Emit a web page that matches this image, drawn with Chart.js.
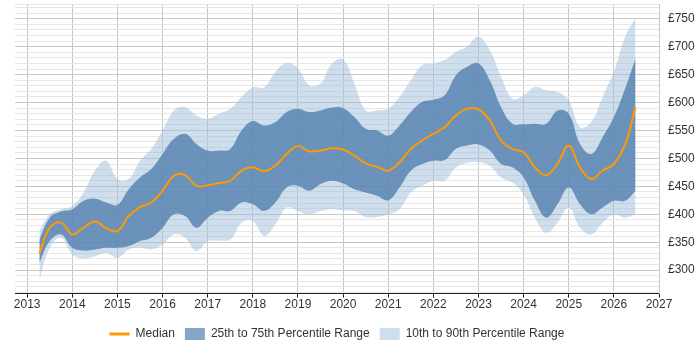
<!DOCTYPE html>
<html>
<head>
<meta charset="utf-8">
<script src="https://cdn.jsdelivr.net/npm/chart.js@4/dist/chart.umd.min.js"></script>
<style>
  html, body { margin: 0; padding: 0; background: #fff; }
  #wrap { width: 700px; height: 350px; }
</style>
</head>
<body>
<div id="wrap"><canvas id="c" width="700" height="350"></canvas></div>
<script>
// ---- data ----
const years = [2013.27, 2013.5, 2013.75, 2014.0, 2014.25, 2014.5, 2014.75, 2015.0, 2015.25, 2015.5,
  2015.75, 2016.0, 2016.25, 2016.5, 2016.75, 2017.0, 2017.25, 2017.5, 2017.75, 2018.0,
  2018.25, 2018.5, 2018.75, 2019.0, 2019.25, 2019.5, 2019.75, 2020.0, 2020.25, 2020.5,
  2020.75, 2021.0, 2021.25, 2021.5, 2021.75, 2022.0, 2022.25, 2022.5, 2022.75, 2023.0,
  2023.25, 2023.5, 2023.75, 2024.0, 2024.25, 2024.5, 2024.75, 2025.0, 2025.25, 2025.5,
  2025.75, 2026.0, 2026.25, 2026.48];
const p90 = [370, 400, 409, 415, 439, 478, 496, 463, 463, 496,
  517, 550, 586, 592, 577, 571, 580, 589, 610, 627,
  627, 655, 671, 661, 631, 634, 670, 677, 634, 586,
  586, 589, 610, 640, 667, 670, 676, 691, 700, 718,
  694, 646, 607, 613, 628, 622, 619, 604, 556, 565,
  610, 655, 718, 751];
const p75 = [355, 394, 405, 409, 424, 428, 421, 417, 445, 466,
  481, 508, 535, 544, 526, 514, 514, 517, 550, 567,
  559, 565, 583, 589, 583, 586, 591, 590, 574, 553,
  550, 541, 559, 583, 601, 605, 613, 649, 664, 670,
  640, 592, 562, 561, 562, 562, 586, 580, 526, 508,
  538, 574, 625, 679];
const median = [330, 376, 385, 364, 376, 387, 375, 370, 397, 413,
  421, 442, 469, 470, 451, 452, 456, 460, 478, 484,
  477, 487, 508, 522, 513, 514, 518, 516, 505, 491,
  485, 478, 493, 517, 532, 544, 556, 577, 589, 588,
  568, 532, 517, 511, 484, 470, 490, 523, 484, 463,
  478, 490, 525, 592];
const p25 = [313, 352, 364, 340, 335, 337, 340, 340, 343, 352,
  358, 376, 400, 397, 376, 394, 406, 406, 421, 418,
  406, 421, 448, 451, 442, 454, 460, 455, 445, 439,
  433, 425, 448, 478, 490, 496, 497, 517, 523, 525,
  514, 490, 484, 466, 424, 394, 418, 448, 418, 400,
  412, 424, 424, 442];
const p10 = [283, 340, 358, 328, 321, 325, 331, 322, 337, 340,
  337, 346, 364, 358, 334, 352, 353, 355, 385, 388,
  361, 382, 412, 406, 400, 406, 409, 407, 406, 395,
  395, 400, 409, 439, 451, 460, 460, 484, 492, 493,
  487, 466, 457, 436, 394, 367, 385, 412, 376, 364,
  385, 400, 394, 400];
const xTickYears = [2013, 2014, 2015, 2016, 2017, 2018, 2019, 2020, 2021, 2022, 2023, 2024, 2025, 2026, 2027];
const seriesLabels = ['Median', '25th to 75th Percentile Range', '10th to 90th Percentile Range'];

// ---- chart ----
const pts = arr => arr.map((v, i) => ({ x: years[i], y: v }));
const FONT = "'Liberation Sans', Arial, sans-serif";
Chart.defaults.font.family = FONT;
Chart.defaults.font.size = 12;
Chart.defaults.color = '#333';

const DARK = 'rgba(83,127,175,0.8)';
const LIGHT = 'rgba(158,189,219,0.5)';
const defaultGen = Chart.defaults.plugins.legend.labels.generateLabels;

// centre the legend on the plot area, as in the reference
const legendCenter = {
  id: 'legendCenter',
  afterLayout(chart) {
    const l = chart.legend, ca = chart.chartArea;
    if (!l || !ca) return;
    l.left = ca.left; l.right = ca.right; l.width = ca.right - ca.left;
  }
};

new Chart(document.getElementById('c'), {
  type: 'line',
  data: {
    datasets: [
      { label: seriesLabels[0], data: pts(median), borderColor: '#ff9900', backgroundColor: '#ff9900',
        borderWidth: 2, pointRadius: 0, tension: 0.4, fill: false, order: 0, pointStyle: 'line' },
      { label: seriesLabels[1], data: pts(p75), borderColor: 'rgba(0,0,0,0)', backgroundColor: DARK,
        borderWidth: 0, pointRadius: 0, tension: 0.4, fill: '+1', order: 1, pointStyle: 'rect' },
      { label: 'p25', data: pts(p25), borderColor: 'rgba(0,0,0,0)', backgroundColor: DARK,
        borderWidth: 0, pointRadius: 0, tension: 0.4, fill: false, order: 1 },
      { label: seriesLabels[2], data: pts(p90), borderColor: 'rgba(0,0,0,0)', backgroundColor: LIGHT,
        borderWidth: 0, pointRadius: 0, tension: 0.4, fill: '+1', order: 2, pointStyle: 'rect' },
      { label: 'p10', data: pts(p10), borderColor: 'rgba(0,0,0,0)', backgroundColor: LIGHT,
        borderWidth: 0, pointRadius: 0, tension: 0.4, fill: false, order: 2 }
    ]
  },
  plugins: [legendCenter],
  options: {
    responsive: false,
    animation: false,
    devicePixelRatio: 1,
    layout: { padding: { left: 15, right: 0, top: 0, bottom: 0 } },
    plugins: {
      tooltip: { enabled: false },
      legend: {
        position: 'bottom',
        labels: {
          usePointStyle: true,
          pointStyleWidth: 20,
          boxHeight: 12,
          padding: 10,
          color: '#333',
          font: { size: 12, family: FONT },
          generateLabels: chart => defaultGen(chart)
            .filter(item => seriesLabels.includes(item.text))
            .map(item => {
              if (item.text === 'Median') item.lineWidth = 3;
              if (item.text === seriesLabels[1]) item.fillStyle = 'rgba(83,127,175,0.7)';
              return item;
            })
        }
      }
    },
    scales: {
      x: {
        type: 'linear',
        min: 2012.73,
        max: 2027,
        afterBuildTicks: axis => { axis.ticks = xTickYears.map(v => ({ value: v })); },
        afterFit: axis => { axis.height += 6; },
        ticks: { autoSkip: false, padding: 0, color: '#333', callback: v => String(v) },
        grid: { color: '#c8c8c8', tickLength: 4, tickColor: '#222', drawTicks: true },
        border: { color: '#222', width: 1 }
      },
      y: {
        position: 'right',
        min: 258,
        max: 775,
        afterBuildTicks: axis => {
          const t = [];
          for (let v = 260; v <= 770; v += 10) t.push({ value: v });
          t.push({ value: 775 });
          axis.ticks = t;
        },
        afterFit: axis => { axis.width = 41; },
        ticks: {
          autoSkip: false, padding: 0, color: '#333',
          font: { size: 12, family: FONT, lineHeight: 0.8 },
          callback: v => (v % 50 === 0 ? '£' + v : '')
        },
        grid: {
          drawTicks: true, tickLength: 9, tickColor: 'rgba(0,0,0,0)',
          color: ctx => (ctx.tick && ctx.tick.value % 50 === 0 ? '#c8c8c8' : '#e6e6e6')
        },
        border: { color: '#c8c8c8' }
      }
    }
  }
});
</script>
</body>
</html>
